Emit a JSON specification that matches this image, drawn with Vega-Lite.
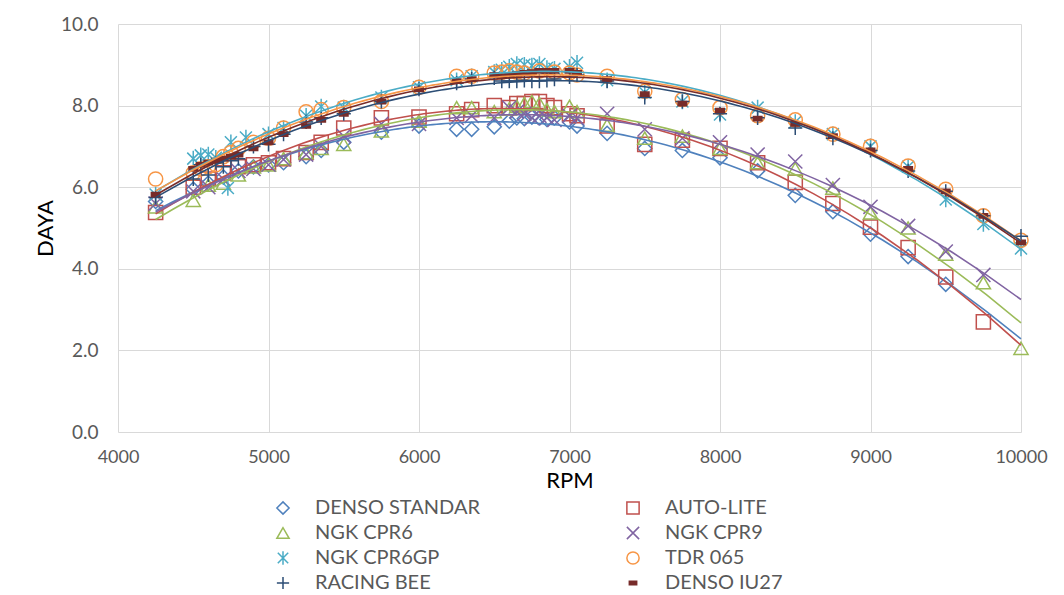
{
"$schema": "https://vega.github.io/schema/vega-lite/v6.json",
"width": 903, "height": 408,
"autosize": {"type": "none"},
"padding": {"left": 118, "top": 24, "right": 43, "bottom": 163},
"background": "white",
"config": {"view": {"stroke": null}, "font": "Lato"},
"datasets": {"d": [
{"s":"DENSO STANDAR","x":4250,"y":5.65},{"s":"DENSO STANDAR","x":4500,"y":5.95},{"s":"DENSO STANDAR","x":4600,"y":6.1},{"s":"DENSO STANDAR","x":4700,"y":6.25},{"s":"DENSO STANDAR","x":4800,"y":6.4},{"s":"DENSO STANDAR","x":4900,"y":6.5},{"s":"DENSO STANDAR","x":5000,"y":6.55},{"s":"DENSO STANDAR","x":5100,"y":6.6},{"s":"DENSO STANDAR","x":5250,"y":6.75},{"s":"DENSO STANDAR","x":5350,"y":6.9},{"s":"DENSO STANDAR","x":5500,"y":7.1},{"s":"DENSO STANDAR","x":5750,"y":7.35},{"s":"DENSO STANDAR","x":6000,"y":7.5},{"s":"DENSO STANDAR","x":6250,"y":7.42},{"s":"DENSO STANDAR","x":6350,"y":7.42},{"s":"DENSO STANDAR","x":6500,"y":7.48},{"s":"DENSO STANDAR","x":6600,"y":7.62},{"s":"DENSO STANDAR","x":6650,"y":7.7},{"s":"DENSO STANDAR","x":6700,"y":7.68},{"s":"DENSO STANDAR","x":6750,"y":7.72},{"s":"DENSO STANDAR","x":6800,"y":7.7},{"s":"DENSO STANDAR","x":6850,"y":7.66},{"s":"DENSO STANDAR","x":6900,"y":7.7},{"s":"DENSO STANDAR","x":7000,"y":7.6},{"s":"DENSO STANDAR","x":7050,"y":7.5},{"s":"DENSO STANDAR","x":7250,"y":7.32},{"s":"DENSO STANDAR","x":7500,"y":6.95},{"s":"DENSO STANDAR","x":7750,"y":6.9},{"s":"DENSO STANDAR","x":8000,"y":6.72},{"s":"DENSO STANDAR","x":8250,"y":6.4},{"s":"DENSO STANDAR","x":8500,"y":5.8},{"s":"DENSO STANDAR","x":8750,"y":5.4},{"s":"DENSO STANDAR","x":9000,"y":4.85},{"s":"DENSO STANDAR","x":9250,"y":4.3},{"s":"DENSO STANDAR","x":9500,"y":3.62},
{"s":"AUTO-LITE","x":4250,"y":5.38},{"s":"AUTO-LITE","x":4500,"y":6.0},{"s":"AUTO-LITE","x":4600,"y":6.2},{"s":"AUTO-LITE","x":4700,"y":6.35},{"s":"AUTO-LITE","x":4800,"y":6.5},{"s":"AUTO-LITE","x":4900,"y":6.55},{"s":"AUTO-LITE","x":5000,"y":6.6},{"s":"AUTO-LITE","x":5100,"y":6.7},{"s":"AUTO-LITE","x":5250,"y":6.85},{"s":"AUTO-LITE","x":5350,"y":7.1},{"s":"AUTO-LITE","x":5500,"y":7.45},{"s":"AUTO-LITE","x":5750,"y":7.7},{"s":"AUTO-LITE","x":6000,"y":7.72},{"s":"AUTO-LITE","x":6250,"y":7.8},{"s":"AUTO-LITE","x":6350,"y":7.9},{"s":"AUTO-LITE","x":6500,"y":8.0},{"s":"AUTO-LITE","x":6600,"y":7.95},{"s":"AUTO-LITE","x":6650,"y":8.05},{"s":"AUTO-LITE","x":6700,"y":8.05},{"s":"AUTO-LITE","x":6750,"y":8.1},{"s":"AUTO-LITE","x":6800,"y":8.1},{"s":"AUTO-LITE","x":6850,"y":8.0},{"s":"AUTO-LITE","x":6900,"y":7.95},{"s":"AUTO-LITE","x":7000,"y":7.8},{"s":"AUTO-LITE","x":7050,"y":7.75},{"s":"AUTO-LITE","x":7250,"y":7.5},{"s":"AUTO-LITE","x":7500,"y":7.05},{"s":"AUTO-LITE","x":7750,"y":7.15},{"s":"AUTO-LITE","x":8000,"y":6.95},{"s":"AUTO-LITE","x":8250,"y":6.6},{"s":"AUTO-LITE","x":8500,"y":6.12},{"s":"AUTO-LITE","x":8750,"y":5.6},{"s":"AUTO-LITE","x":9000,"y":5.02},{"s":"AUTO-LITE","x":9250,"y":4.52},{"s":"AUTO-LITE","x":9500,"y":3.8},{"s":"AUTO-LITE","x":9750,"y":2.7},
{"s":"NGK CPR6","x":4250,"y":5.52},{"s":"NGK CPR6","x":4500,"y":5.68},{"s":"NGK CPR6","x":4600,"y":6.05},{"s":"NGK CPR6","x":4700,"y":6.1},{"s":"NGK CPR6","x":4800,"y":6.3},{"s":"NGK CPR6","x":4900,"y":6.5},{"s":"NGK CPR6","x":5000,"y":6.55},{"s":"NGK CPR6","x":5100,"y":6.7},{"s":"NGK CPR6","x":5250,"y":6.85},{"s":"NGK CPR6","x":5350,"y":6.95},{"s":"NGK CPR6","x":5500,"y":7.05},{"s":"NGK CPR6","x":5750,"y":7.38},{"s":"NGK CPR6","x":6000,"y":7.62},{"s":"NGK CPR6","x":6250,"y":7.95},{"s":"NGK CPR6","x":6350,"y":7.95},{"s":"NGK CPR6","x":6500,"y":7.85},{"s":"NGK CPR6","x":6600,"y":7.92},{"s":"NGK CPR6","x":6650,"y":7.98},{"s":"NGK CPR6","x":6700,"y":8.05},{"s":"NGK CPR6","x":6750,"y":8.1},{"s":"NGK CPR6","x":6800,"y":8.05},{"s":"NGK CPR6","x":6850,"y":7.9},{"s":"NGK CPR6","x":6900,"y":7.85},{"s":"NGK CPR6","x":7000,"y":7.98},{"s":"NGK CPR6","x":7050,"y":7.85},{"s":"NGK CPR6","x":7250,"y":7.52},{"s":"NGK CPR6","x":7500,"y":7.2},{"s":"NGK CPR6","x":7750,"y":7.25},{"s":"NGK CPR6","x":8000,"y":6.95},{"s":"NGK CPR6","x":8250,"y":6.6},{"s":"NGK CPR6","x":8500,"y":6.45},{"s":"NGK CPR6","x":8750,"y":5.98},{"s":"NGK CPR6","x":9000,"y":5.37},{"s":"NGK CPR6","x":9250,"y":5.0},{"s":"NGK CPR6","x":9500,"y":4.36},{"s":"NGK CPR6","x":9750,"y":3.66},{"s":"NGK CPR6","x":10000,"y":2.05},
{"s":"NGK CPR9","x":4250,"y":5.6},{"s":"NGK CPR9","x":4500,"y":5.9},{"s":"NGK CPR9","x":4600,"y":6.0},{"s":"NGK CPR9","x":4700,"y":6.2},{"s":"NGK CPR9","x":4800,"y":6.4},{"s":"NGK CPR9","x":4900,"y":6.45},{"s":"NGK CPR9","x":5000,"y":6.55},{"s":"NGK CPR9","x":5100,"y":6.68},{"s":"NGK CPR9","x":5250,"y":6.8},{"s":"NGK CPR9","x":5350,"y":7.0},{"s":"NGK CPR9","x":5500,"y":7.25},{"s":"NGK CPR9","x":5750,"y":7.55},{"s":"NGK CPR9","x":6000,"y":7.55},{"s":"NGK CPR9","x":6250,"y":7.7},{"s":"NGK CPR9","x":6350,"y":7.75},{"s":"NGK CPR9","x":6500,"y":7.7},{"s":"NGK CPR9","x":6600,"y":7.95},{"s":"NGK CPR9","x":6650,"y":7.85},{"s":"NGK CPR9","x":6700,"y":7.8},{"s":"NGK CPR9","x":6750,"y":7.7},{"s":"NGK CPR9","x":6800,"y":7.75},{"s":"NGK CPR9","x":6850,"y":7.7},{"s":"NGK CPR9","x":6900,"y":7.65},{"s":"NGK CPR9","x":7000,"y":7.75},{"s":"NGK CPR9","x":7050,"y":7.7},{"s":"NGK CPR9","x":7250,"y":7.8},{"s":"NGK CPR9","x":7500,"y":7.42},{"s":"NGK CPR9","x":7750,"y":7.2},{"s":"NGK CPR9","x":8000,"y":7.1},{"s":"NGK CPR9","x":8250,"y":6.8},{"s":"NGK CPR9","x":8500,"y":6.63},{"s":"NGK CPR9","x":8750,"y":6.05},{"s":"NGK CPR9","x":9000,"y":5.52},{"s":"NGK CPR9","x":9250,"y":5.05},{"s":"NGK CPR9","x":9500,"y":4.42},{"s":"NGK CPR9","x":9750,"y":3.85},
{"s":"NGK CPR6GP","x":4250,"y":5.82},{"s":"NGK CPR6GP","x":4500,"y":6.7},{"s":"NGK CPR6GP","x":4550,"y":6.78},{"s":"NGK CPR6GP","x":4600,"y":6.8},{"s":"NGK CPR6GP","x":4650,"y":6.72},{"s":"NGK CPR6GP","x":4730,"y":5.98},{"s":"NGK CPR6GP","x":4750,"y":7.1},{"s":"NGK CPR6GP","x":4850,"y":7.22},{"s":"NGK CPR6GP","x":5000,"y":7.3},{"s":"NGK CPR6GP","x":5100,"y":7.45},{"s":"NGK CPR6GP","x":5250,"y":7.75},{"s":"NGK CPR6GP","x":5350,"y":7.98},{"s":"NGK CPR6GP","x":5500,"y":7.95},{"s":"NGK CPR6GP","x":5750,"y":8.2},{"s":"NGK CPR6GP","x":6000,"y":8.45},{"s":"NGK CPR6GP","x":6250,"y":8.62},{"s":"NGK CPR6GP","x":6350,"y":8.72},{"s":"NGK CPR6GP","x":6500,"y":8.82},{"s":"NGK CPR6GP","x":6550,"y":8.88},{"s":"NGK CPR6GP","x":6600,"y":8.95},{"s":"NGK CPR6GP","x":6650,"y":9.02},{"s":"NGK CPR6GP","x":6700,"y":9.0},{"s":"NGK CPR6GP","x":6750,"y":8.98},{"s":"NGK CPR6GP","x":6800,"y":9.02},{"s":"NGK CPR6GP","x":6850,"y":8.92},{"s":"NGK CPR6GP","x":6900,"y":8.9},{"s":"NGK CPR6GP","x":7000,"y":8.95},{"s":"NGK CPR6GP","x":7050,"y":9.05},{"s":"NGK CPR6GP","x":7250,"y":8.62},{"s":"NGK CPR6GP","x":7500,"y":8.32},{"s":"NGK CPR6GP","x":7750,"y":8.1},{"s":"NGK CPR6GP","x":8000,"y":7.78},{"s":"NGK CPR6GP","x":8250,"y":7.95},{"s":"NGK CPR6GP","x":8500,"y":7.6},{"s":"NGK CPR6GP","x":8750,"y":7.3},{"s":"NGK CPR6GP","x":9000,"y":7.0},{"s":"NGK CPR6GP","x":9250,"y":6.5},{"s":"NGK CPR6GP","x":9500,"y":5.7},{"s":"NGK CPR6GP","x":9750,"y":5.1},{"s":"NGK CPR6GP","x":10000,"y":4.5},
{"s":"TDR 065","x":4250,"y":6.2},{"s":"TDR 065","x":4500,"y":6.35},{"s":"TDR 065","x":4550,"y":6.45},{"s":"TDR 065","x":4600,"y":6.5},{"s":"TDR 065","x":4650,"y":6.55},{"s":"TDR 065","x":4700,"y":6.75},{"s":"TDR 065","x":4750,"y":6.85},{"s":"TDR 065","x":4800,"y":6.95},{"s":"TDR 065","x":4900,"y":7.1},{"s":"TDR 065","x":5000,"y":7.2},{"s":"TDR 065","x":5100,"y":7.45},{"s":"TDR 065","x":5250,"y":7.85},{"s":"TDR 065","x":5350,"y":7.9},{"s":"TDR 065","x":5500,"y":7.95},{"s":"TDR 065","x":5750,"y":8.1},{"s":"TDR 065","x":6000,"y":8.45},{"s":"TDR 065","x":6250,"y":8.72},{"s":"TDR 065","x":6350,"y":8.72},{"s":"TDR 065","x":6500,"y":8.8},{"s":"TDR 065","x":6550,"y":8.82},{"s":"TDR 065","x":6600,"y":8.85},{"s":"TDR 065","x":6650,"y":8.82},{"s":"TDR 065","x":6700,"y":8.8},{"s":"TDR 065","x":6800,"y":8.85},{"s":"TDR 065","x":6900,"y":8.82},{"s":"TDR 065","x":7000,"y":8.8},{"s":"TDR 065","x":7050,"y":8.75},{"s":"TDR 065","x":7250,"y":8.72},{"s":"TDR 065","x":7500,"y":8.35},{"s":"TDR 065","x":7750,"y":8.15},{"s":"TDR 065","x":8000,"y":7.95},{"s":"TDR 065","x":8250,"y":7.75},{"s":"TDR 065","x":8500,"y":7.65},{"s":"TDR 065","x":8750,"y":7.3},{"s":"TDR 065","x":9000,"y":7.0},{"s":"TDR 065","x":9250,"y":6.52},{"s":"TDR 065","x":9500,"y":5.95},{"s":"TDR 065","x":9750,"y":5.3},{"s":"TDR 065","x":10000,"y":4.7},
{"s":"RACING BEE","x":4250,"y":5.75},{"s":"RACING BEE","x":4500,"y":6.2},{"s":"RACING BEE","x":4550,"y":6.55},{"s":"RACING BEE","x":4600,"y":6.3},{"s":"RACING BEE","x":4650,"y":6.6},{"s":"RACING BEE","x":4700,"y":6.5},{"s":"RACING BEE","x":4750,"y":6.65},{"s":"RACING BEE","x":4800,"y":6.7},{"s":"RACING BEE","x":4900,"y":7.0},{"s":"RACING BEE","x":5000,"y":7.05},{"s":"RACING BEE","x":5100,"y":7.3},{"s":"RACING BEE","x":5250,"y":7.6},{"s":"RACING BEE","x":5350,"y":7.7},{"s":"RACING BEE","x":5500,"y":7.8},{"s":"RACING BEE","x":5750,"y":8.1},{"s":"RACING BEE","x":6000,"y":8.4},{"s":"RACING BEE","x":6250,"y":8.55},{"s":"RACING BEE","x":6350,"y":8.65},{"s":"RACING BEE","x":6500,"y":8.68},{"s":"RACING BEE","x":6550,"y":8.6},{"s":"RACING BEE","x":6600,"y":8.6},{"s":"RACING BEE","x":6650,"y":8.6},{"s":"RACING BEE","x":6700,"y":8.62},{"s":"RACING BEE","x":6750,"y":8.6},{"s":"RACING BEE","x":6800,"y":8.6},{"s":"RACING BEE","x":6850,"y":8.62},{"s":"RACING BEE","x":6900,"y":8.65},{"s":"RACING BEE","x":7000,"y":8.7},{"s":"RACING BEE","x":7050,"y":8.75},{"s":"RACING BEE","x":7250,"y":8.6},{"s":"RACING BEE","x":7500,"y":8.2},{"s":"RACING BEE","x":7750,"y":8.1},{"s":"RACING BEE","x":8000,"y":7.8},{"s":"RACING BEE","x":8250,"y":7.7},{"s":"RACING BEE","x":8500,"y":7.45},{"s":"RACING BEE","x":8750,"y":7.2},{"s":"RACING BEE","x":9000,"y":6.9},{"s":"RACING BEE","x":9250,"y":6.4},{"s":"RACING BEE","x":9500,"y":5.9},{"s":"RACING BEE","x":9750,"y":5.3},{"s":"RACING BEE","x":10000,"y":4.8},
{"s":"DENSO IU27","x":4250,"y":5.82},{"s":"DENSO IU27","x":4500,"y":6.45},{"s":"DENSO IU27","x":4550,"y":6.55},{"s":"DENSO IU27","x":4600,"y":6.6},{"s":"DENSO IU27","x":4650,"y":6.65},{"s":"DENSO IU27","x":4700,"y":6.7},{"s":"DENSO IU27","x":4750,"y":6.75},{"s":"DENSO IU27","x":4800,"y":6.8},{"s":"DENSO IU27","x":4900,"y":6.95},{"s":"DENSO IU27","x":5000,"y":7.1},{"s":"DENSO IU27","x":5100,"y":7.3},{"s":"DENSO IU27","x":5250,"y":7.5},{"s":"DENSO IU27","x":5350,"y":7.65},{"s":"DENSO IU27","x":5500,"y":7.8},{"s":"DENSO IU27","x":5750,"y":8.1},{"s":"DENSO IU27","x":6000,"y":8.4},{"s":"DENSO IU27","x":6250,"y":8.6},{"s":"DENSO IU27","x":6350,"y":8.65},{"s":"DENSO IU27","x":6500,"y":8.75},{"s":"DENSO IU27","x":6550,"y":8.72},{"s":"DENSO IU27","x":6600,"y":8.75},{"s":"DENSO IU27","x":6650,"y":8.78},{"s":"DENSO IU27","x":6700,"y":8.8},{"s":"DENSO IU27","x":6750,"y":8.82},{"s":"DENSO IU27","x":6800,"y":8.85},{"s":"DENSO IU27","x":6850,"y":8.85},{"s":"DENSO IU27","x":6900,"y":8.85},{"s":"DENSO IU27","x":7000,"y":8.85},{"s":"DENSO IU27","x":7050,"y":8.8},{"s":"DENSO IU27","x":7250,"y":8.65},{"s":"DENSO IU27","x":7500,"y":8.28},{"s":"DENSO IU27","x":7750,"y":8.05},{"s":"DENSO IU27","x":8000,"y":7.88},{"s":"DENSO IU27","x":8250,"y":7.68},{"s":"DENSO IU27","x":8500,"y":7.55},{"s":"DENSO IU27","x":8750,"y":7.25},{"s":"DENSO IU27","x":9000,"y":6.9},{"s":"DENSO IU27","x":9250,"y":6.45},{"s":"DENSO IU27","x":9500,"y":5.9},{"s":"DENSO IU27","x":9750,"y":5.3},{"s":"DENSO IU27","x":10000,"y":4.65}
]},
"data": {"name": "d"},
"layer": [
{"mark": {"type": "point", "strokeWidth": 1.5, "size": 200, "opacity": 1},
 "encoding": {
  "x": {"field": "x", "type": "quantitative", "scale": {"domain": [4000, 10000], "nice": false},
   "axis": {"values": [4000,5000,6000,7000,8000,9000,10000], "format": "d", "title": "RPM", "grid": true, "gridColor": "#D9D9D9", "gridWidth": 1, "domain": false, "ticks": false, "tickSize": 0, "labelPadding": 16, "labelFontSize": 18, "labelColor": "#595959", "labelFont": "Lato", "titleFont": "Lato", "titleFontSize": 22, "titleFontWeight": "normal", "titleColor": "#000000", "titlePadding": 4, "labelFlush": false}},
  "y": {"field": "y", "type": "quantitative", "scale": {"domain": [0, 10], "nice": false},
   "axis": {"values": [0,2,4,6,8,10], "format": ".1f", "title": "DAYA", "grid": true, "gridColor": "#D9D9D9", "gridWidth": 1, "domain": false, "ticks": false, "tickSize": 0, "labelPadding": 20, "labelFontSize": 19, "labelColor": "#595959", "labelFont": "Lato", "titleFont": "Lato", "titleFontSize": 22, "titleFontWeight": "normal", "titleColor": "#000000", "titlePadding": 3}},
  "stroke": {"field": "s", "type": "nominal",
   "scale": {"domain": ["DENSO STANDAR","AUTO-LITE","NGK CPR6","NGK CPR9","NGK CPR6GP","TDR 065","RACING BEE","DENSO IU27"], "range": ["#4F81BD","#C0504D","#9BBB59","#8064A2","#4BACC6","#F79646","#2C4D75","#772C2A"]},
   "legend": {"title": null, "orient": "none", "direction": "horizontal", "legendX": 155, "legendY": 474, "columns": 2, "columnPadding": 143, "rowPadding": 5, "labelFont": "Lato", "labelFontSize": 20, "labelLimit": 400, "labelColor": "#595959", "symbolSize": 150, "symbolStrokeWidth": 1.5, "labelOffset": 22, "gridAlign": "all"}},
  "fill": {"field": "s", "type": "nominal",
   "scale": {"domain": ["DENSO STANDAR","AUTO-LITE","NGK CPR6","NGK CPR9","NGK CPR6GP","TDR 065","RACING BEE","DENSO IU27"], "range": ["transparent","transparent","transparent","transparent","transparent","transparent","transparent","#772C2A"]},
   "legend": {"title": null, "orient": "none", "direction": "horizontal", "legendX": 155, "legendY": 474, "columns": 2, "columnPadding": 143, "rowPadding": 5, "labelFont": "Lato", "labelFontSize": 20, "labelLimit": 400, "labelColor": "#595959", "symbolSize": 150, "symbolStrokeWidth": 1.5, "labelOffset": 22, "gridAlign": "all"}},
  "shape": {"field": "s", "type": "nominal",
   "scale": {"domain": ["DENSO STANDAR","AUTO-LITE","NGK CPR6","NGK CPR9","NGK CPR6GP","TDR 065","RACING BEE","DENSO IU27"], "range": ["diamond","square","triangle-up","M-1,-1L1,1M-1,1L1,-1","M-0.85,-0.85L0.85,0.85M-0.85,0.85L0.85,-0.85M0,-1.1L0,1.1","circle","M-1,0L1,0M0,-1L0,1","M-0.6,-0.3L0.6,-0.3L0.6,0.3L-0.6,0.3Z"]},
   "legend": {"title": null, "orient": "none", "direction": "horizontal", "legendX": 155, "legendY": 474, "columns": 2, "columnPadding": 143, "rowPadding": 5, "labelFont": "Lato", "labelFontSize": 20, "labelLimit": 400, "labelColor": "#595959", "symbolSize": 150, "symbolStrokeWidth": 1.5, "labelOffset": 22, "gridAlign": "all"}}
 }},
{"transform": [{"regression": "y", "on": "x", "groupby": ["s"], "method": "poly", "order": 2, "extent": [4250, 10000]}],
 "mark": {"type": "line", "strokeWidth": 1.6},
 "encoding": {
  "x": {"field": "x", "type": "quantitative"},
  "y": {"field": "y", "type": "quantitative"},
  "color": {"field": "s", "type": "nominal",
   "scale": {"domain": ["DENSO STANDAR","AUTO-LITE","NGK CPR6","NGK CPR9","NGK CPR6GP","TDR 065","RACING BEE","DENSO IU27"], "range": ["#4F81BD","#C0504D","#9BBB59","#8064A2","#4BACC6","#F79646","#2C4D75","#772C2A"]},
   "legend": null}
 }}
]
}
